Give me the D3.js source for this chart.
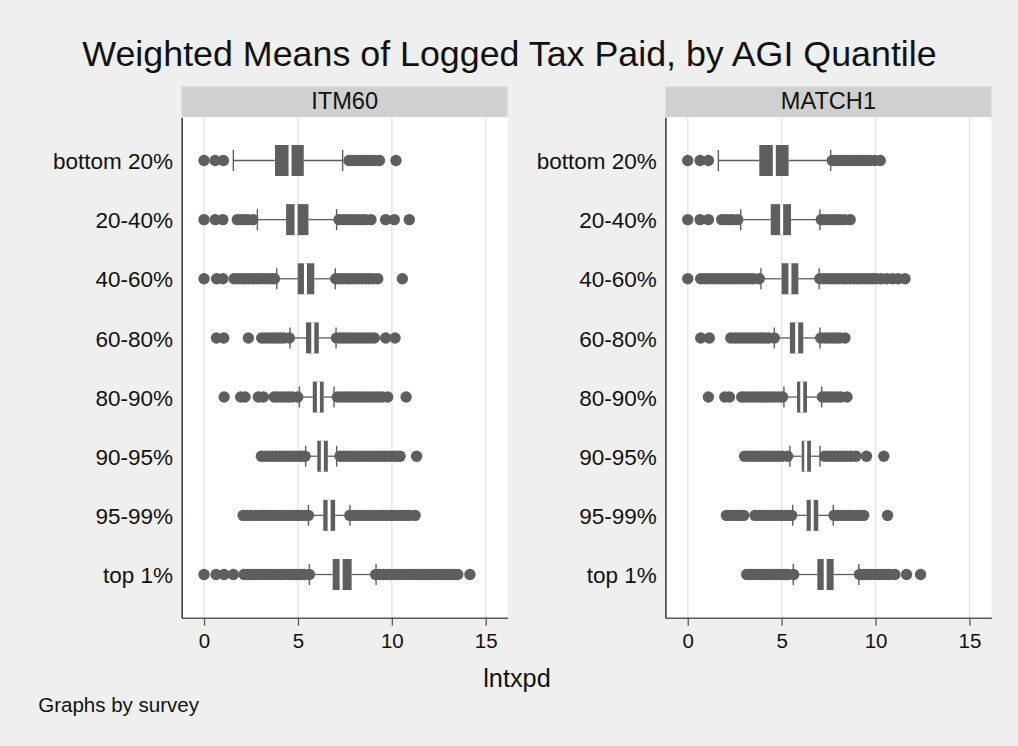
<!DOCTYPE html>
<html>
<head>
<meta charset="utf-8">
<script src="https://cdn.jsdelivr.net/npm/d3@7"></script>
<style>
html,body{margin:0;padding:0;background:#efefef;}
svg{display:block;font-family:"Liberation Sans",Arial,sans-serif;}
</style>
</head>
<body>
<svg id="chart" width="1018" height="746"></svg>
<script>
// ---------- data ----------
const categories = ["bottom 20%","20-40%","40-60%","60-80%","80-90%","90-95%","95-99%","top 1%"];
const surveys = ["ITM60","MATCH1"];
const xTicks = [0,5,10,15];

// ITM60
const itmLo  = [1.56, 2.84, 3.87, 4.58, 5.08, 5.41, 5.56, 5.61];
const itmQ1  = [3.78, 4.37, 4.99, 5.43, 5.79, 6.03, 6.35, 6.85];
const itmMed = [4.58, 4.90, 5.40, 5.79, 6.09, 6.30, 6.66, 7.30];
const itmQ3  = [5.31, 5.56, 5.87, 6.11, 6.37, 6.59, 6.98, 7.86];
const itmHi  = [7.38, 7.06, 6.99, 7.03, 6.92, 7.06, 7.77, 9.16];
const itmOut = [
  [0, 0.59, 1.03, 7.72, 7.9, 8.1, 8.3, 8.5, 8.7, 8.9, 9.1, 9.34, 10.22],
  [0, 0.6, 1.0, 1.77, 1.95, 2.15, 2.35, 2.6, 7.19, 7.4, 7.6, 7.8, 8.0, 8.2, 8.4, 8.6, 8.89, 9.67, 10.13, 10.93],
  [0, 0.67, 1.0, 1.6, 1.8, 2.0, 2.2, 2.4, 2.6, 2.8, 3.0, 3.2, 3.4, 3.6, 3.75, 7.01, 7.2, 7.4, 7.6, 7.8, 8.0, 8.2, 8.4, 8.6, 8.8, 9.0, 9.25, 10.56],
  [0.66, 1.05, 2.36, 3.07, 3.25, 3.45, 3.65, 3.85, 4.05, 4.25, 4.54, 7.05, 7.25, 7.45, 7.65, 7.85, 8.05, 8.25, 8.45, 8.65, 8.85, 9.07, 9.67, 10.17],
  [1.07, 1.95, 2.18, 2.89, 3.16, 3.73, 3.9, 4.1, 4.3, 4.5, 4.7, 4.99, 7.1, 7.3, 7.5, 7.7, 7.9, 8.1, 8.3, 8.5, 8.7, 8.9, 9.1, 9.3, 9.5, 9.78, 10.76],
  [3.05, 3.25, 3.45, 3.65, 3.85, 4.05, 4.25, 4.45, 4.65, 4.85, 5.05, 5.2, 5.38, 7.24, 7.45, 7.65, 7.85, 8.05, 8.25, 8.45, 8.65, 8.85, 9.05, 9.25, 9.45, 9.65, 9.85, 10.05, 10.25, 10.44, 11.32],
  [2.08, 2.3, 2.5, 2.75, 2.95, 3.15, 3.35, 3.55, 3.75, 3.95, 4.15, 4.35, 4.55, 4.75, 4.95, 5.15, 5.35, 5.56, 7.76, 7.95, 8.15, 8.35, 8.55, 8.75, 8.95, 9.15, 9.35, 9.55, 9.75, 9.95, 10.15, 10.35, 10.55, 10.75, 10.95, 11.24],
  [0, 0.64, 1.07, 1.56, 2.13, 2.33, 2.53, 2.73, 2.93, 3.13, 3.33, 3.53, 3.73, 3.93, 4.13, 4.33, 4.53, 4.73, 4.93, 5.13, 5.33, 5.61, 9.14, 9.35, 9.55, 9.75, 9.95, 10.15, 10.35, 10.55, 10.75, 10.95, 11.15, 11.35, 11.55, 11.75, 11.95, 12.15, 12.35, 12.55, 12.75, 12.95, 13.15, 13.35, 13.51, 14.16]
];

// MATCH1
const matLo  = [1.63, 2.82, 3.90, 4.61, 5.12, 5.44, 5.59, 5.62];
const matQ1  = [3.81, 4.42, 5.00, 5.44, 5.82, 6.07, 6.33, 6.90];
const matMed = [4.61, 5.00, 5.44, 5.80, 6.07, 6.28, 6.63, 7.32];
const matQ3  = [5.37, 5.50, 5.89, 6.15, 6.35, 6.56, 6.95, 7.77];
const matHi  = [7.61, 7.04, 7.00, 7.04, 7.13, 7.04, 7.75, 9.11];
const matOut = [
  [0, 0.66, 1.1, 7.7, 7.9, 8.1, 8.3, 8.5, 8.7, 8.9, 9.1, 9.3, 9.5, 9.7, 9.95, 10.25],
  [0, 0.66, 1.1, 1.81, 2.0, 2.2, 2.4, 2.66, 7.11, 7.3, 7.5, 7.7, 7.9, 8.1, 8.35, 8.65],
  [0, 0.69, 0.9, 1.1, 1.3, 1.5, 1.7, 1.9, 2.1, 2.3, 2.5, 2.7, 2.9, 3.1, 3.3, 3.5, 3.81, 7.03, 7.25, 7.45, 7.65, 7.85, 8.05, 8.25, 8.45, 8.65, 8.85, 9.05, 9.25, 9.45, 9.65, 9.85, 10.05, 10.3, 10.6, 10.9, 11.2, 11.57],
  [0.69, 1.15, 2.29, 2.5, 2.7, 2.9, 3.1, 3.3, 3.5, 3.7, 3.9, 4.1, 4.3, 4.61, 7.08, 7.3, 7.5, 7.7, 7.9, 8.1, 8.37],
  [1.1, 1.97, 2.22, 2.87, 3.05, 3.25, 3.45, 3.65, 3.85, 4.05, 4.25, 4.45, 4.65, 4.85, 5.05, 7.17, 7.35, 7.55, 7.75, 7.95, 8.15, 8.48],
  [3.03, 3.23, 3.43, 3.63, 3.83, 4.03, 4.23, 4.43, 4.63, 4.83, 5.03, 5.32, 7.29, 7.5, 7.7, 7.9, 8.1, 8.3, 8.5, 8.7, 8.96, 9.52, 10.44],
  [2.06, 2.25, 2.45, 2.65, 2.82, 2.98, 3.58, 3.78, 3.98, 4.18, 4.38, 4.58, 4.78, 4.98, 5.18, 5.38, 5.53, 7.79, 8.0, 8.2, 8.4, 8.6, 8.8, 9.0, 9.2, 9.37, 10.64],
  [3.14, 3.34, 3.54, 3.74, 3.94, 4.14, 4.34, 4.54, 4.74, 4.94, 5.14, 5.34, 5.64, 9.15, 9.35, 9.55, 9.75, 9.95, 10.15, 10.35, 10.55, 10.75, 11.03, 11.65, 12.4]
];

const panelData = [
  {name: surveys[0], lo: itmLo, q1: itmQ1, med: itmMed, q3: itmQ3, hi: itmHi, out: itmOut},
  {name: surveys[1], lo: matLo, q1: matQ1, med: matMed, q3: matQ3, hi: matHi, out: matOut}
];

// ---------- layout ----------
const svg = d3.select("#chart");
const W = 1018, H = 746;
const markColor = "#5e5e5e";
const panelLeft = [181.7, 665.4];
const panelW = 326;
const plotTop = 117.3, plotBottom = 617.7;
const stripTop = 86.7;
const boxH = 31, capH = 21, dotR = 5.7;

svg.append("rect").attr("width", W).attr("height", H).attr("fill", "#efefef");

// title
svg.append("text").attr("x", 509.5).attr("y", 66).attr("text-anchor", "middle")
  .attr("font-size", 35.8).attr("fill", "#111")
  .text("Weighted Means of Logged Tax Paid, by AGI Quantile");

const y = d3.scalePoint().domain(categories).range([plotTop, plotBottom]).padding(0.73);

panelData.forEach((p, pi) => {
  const x0 = panelLeft[pi];
  const x = d3.scaleLinear().domain([-1.19, 16.17]).range([x0, x0 + panelW]);
  const g = svg.append("g");

  // strip header
  g.append("rect").attr("x", x0).attr("y", stripTop).attr("width", panelW).attr("height", plotTop - stripTop)
    .attr("fill", "#d0d0d0").attr("stroke", "#e2e2e2").attr("stroke-width", 1);
  g.append("text").attr("x", x0 + panelW / 2).attr("y", 109.3).attr("text-anchor", "middle")
    .attr("font-size", 23.6).attr("fill", "#111").text(p.name);

  // plot area
  g.append("rect").attr("x", x0).attr("y", plotTop).attr("width", panelW).attr("height", plotBottom - plotTop)
    .attr("fill", "#ffffff");

  // grid
  g.selectAll(".grid").data(xTicks).enter().append("line")
    .attr("x1", d => x(d)).attr("x2", d => x(d))
    .attr("y1", plotTop).attr("y2", plotBottom)
    .attr("stroke", "#e6e6e6").attr("stroke-width", 1.5);

  // x axis
  const xAxis = d3.axisBottom(x).tickValues(xTicks).tickSize(8).tickPadding(8).tickSizeOuter(0);
  const ax = g.append("g").attr("transform", `translate(0,${plotBottom})`).call(xAxis);
  ax.select(".domain").attr("stroke", "#5a5a5a").attr("stroke-width", 1.4);
  ax.selectAll(".tick line").attr("stroke", "#5a5a5a").attr("stroke-width", 1.3);
  ax.selectAll(".tick text").attr("font-size", 20.5).attr("fill", "#111")
    .attr("font-family", "Liberation Sans, Arial, sans-serif");

  // y axis (labels only + line)
  const yAxis = d3.axisLeft(y).tickSize(0).tickPadding(8.6);
  const ay = g.append("g").attr("transform", `translate(${x0},0)`).call(yAxis);
  ay.select(".domain").attr("stroke", "#222").attr("stroke-width", 1.4);
  ay.selectAll(".tick text").attr("font-size", 22.5).attr("fill", "#111")
    .attr("font-family", "Liberation Sans, Arial, sans-serif").attr("dy", "0.36em");

  const rows = categories.map((c, i) => ({c, i}));

  // whiskers
  g.selectAll(".wl").data(rows).enter().append("line")
    .attr("x1", d => x(p.lo[d.i])).attr("x2", d => x(p.q1[d.i]))
    .attr("y1", d => y(d.c)).attr("y2", d => y(d.c))
    .attr("stroke", markColor).attr("stroke-width", 1.3);
  g.selectAll(".wh").data(rows).enter().append("line")
    .attr("x1", d => x(p.q3[d.i])).attr("x2", d => x(p.hi[d.i]))
    .attr("y1", d => y(d.c)).attr("y2", d => y(d.c))
    .attr("stroke", markColor).attr("stroke-width", 1.3);
  // caps
  ["lo", "hi"].forEach(k => {
    g.selectAll(".cap" + k).data(rows).enter().append("line")
      .attr("x1", d => x(p[k][d.i])).attr("x2", d => x(p[k][d.i]))
      .attr("y1", d => y(d.c) - capH / 2).attr("y2", d => y(d.c) + capH / 2)
      .attr("stroke", markColor).attr("stroke-width", 1.4);
  });

  // outliers
  rows.forEach(r => {
    g.selectAll(null).data(p.out[r.i]).enter().append("circle")
      .attr("cx", v => x(v)).attr("cy", y(r.c)).attr("r", dotR)
      .attr("fill", markColor);
  });

  // boxes
  g.selectAll(".box").data(rows).enter().append("rect")
    .attr("x", d => x(p.q1[d.i])).attr("width", d => x(p.q3[d.i]) - x(p.q1[d.i]))
    .attr("y", d => y(d.c) - boxH / 2).attr("height", boxH)
    .attr("fill", markColor);
  // medians
  g.selectAll(".med").data(rows).enter().append("line")
    .attr("x1", d => x(p.med[d.i])).attr("x2", d => x(p.med[d.i]))
    .attr("y1", d => y(d.c) - boxH / 2).attr("y2", d => y(d.c) + boxH / 2)
    .attr("stroke", "#ffffff").attr("stroke-width", 3);
});

// x title
svg.append("text").attr("x", 517).attr("y", 687).attr("text-anchor", "middle")
  .attr("font-size", 25.3).attr("fill", "#111").text("lntxpd");

// note
svg.append("text").attr("x", 38.3).attr("y", 711.5)
  .attr("font-size", 20.5).attr("fill", "#111").text("Graphs by survey");
</script>
</body>
</html>
